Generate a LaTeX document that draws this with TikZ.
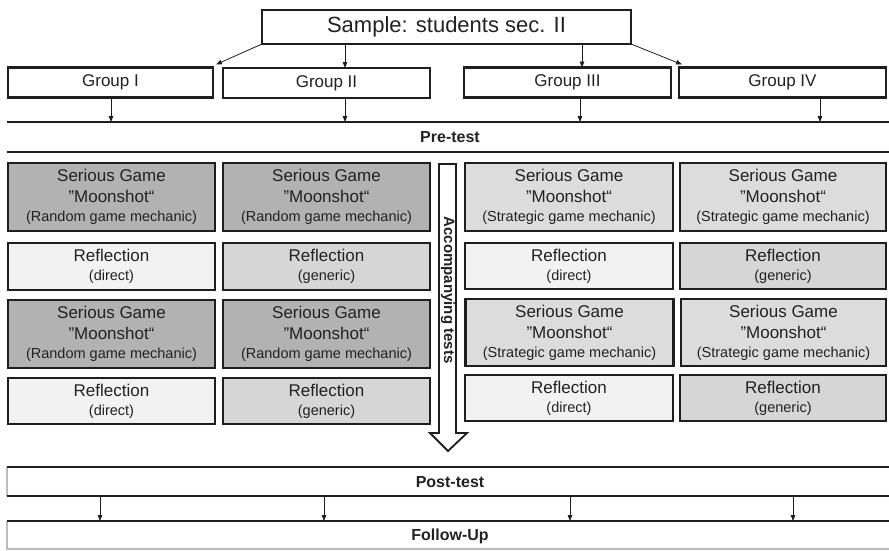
\documentclass[tikz,border=0pt]{standalone}
\usepackage{fontspec}
\setmainfont{Liberation Sans}
\usetikzlibrary{arrows.meta}
\definecolor{linec}{HTML}{1E1E1E}
\definecolor{txt}{HTML}{222222}
\definecolor{randf}{HTML}{B2B2B2}
\definecolor{stratf}{HTML}{DCDCDC}
\definecolor{dirf}{HTML}{F2F2F2}
\definecolor{genf}{HTML}{D6D6D6}
\definecolor{edgegray}{HTML}{BBBBBB}
\tikzset{
  box/.style={draw=linec, line width=2.2pt, inner sep=0pt, outer sep=0pt, text=txt, align=center, font=\fontsize{17}{21}\selectfont},
  grp/.style={box, fill=white, minimum height=30pt},
  randbox/.style={box, fill=randf},
  stratbox/.style={box, fill=stratf},
  dirbox/.style={box, fill=dirf},
  genbox/.style={box, fill=genf},
  arr/.style={-{Triangle[length=6pt,width=4.5pt]}, line width=0.8pt, draw=linec},
  bar/.style={draw=linec, line width=2pt},
  bartext/.style={text=txt, font=\fontsize{16}{19}\selectfont\bfseries, inner sep=0pt}
}
\newcommand{\sgtext}[1]{Serious Game\\ \symbol{34}Moonshot“\\[-2pt] {\fontsize{14.5}{17}\selectfont (#1 game mechanic)}}
\newcommand{\rftext}[1]{Reflection\\[-2pt] {\fontsize{14.5}{17}\selectfont (#1)}}
\begin{document}
\begin{tikzpicture}[x=1pt,y=-1pt]
\useasboundingbox (0,0) rectangle (889,550);
% Sample and groups
\node[box, minimum width=369pt, minimum height=34pt, font=\fontsize{22}{26}\selectfont] (S) at (446.5,27) {Sample: students sec. II};
\node[grp, minimum width=205pt] (G1) at (110.5,82.5) {Group I};
\node[grp, minimum width=207pt] (G2) at (326.5,83) {Group II};
\node[grp, minimum width=207pt] (G3) at (567.5,82.5) {Group III};
\node[grp, minimum width=207pt] (G4) at (782.5,82.5) {Group IV};
\draw[arr] (S.south west) -- ([shift={(3,-3)}]G1.north east);
\draw[arr] (S.south -| 345,0) -- (G2.north -| 345,0);
\draw[arr] (S.south -| 582,0) -- (G3.north -| 582,0);
\draw[arr] (S.south east) -- ([shift={(3,-3)}]G4.north west);
% Pre-test
\node[minimum width=882pt, minimum height=30pt, inner sep=0pt, outer sep=0pt] (pre) at (448,137) {};
\draw[bar] (pre.north west) -- (pre.north east);
\draw[bar] (pre.south west) -- (pre.south east);
\node[bartext] at (450,137) {Pre-test};
\draw[arr] (G1.south -| 111,0) -- (pre.north -| 111,0);
\draw[arr] (G2.south -| 345,0) -- (pre.north -| 345,0);
\draw[arr] (G3.south -| 580,0) -- (pre.north -| 580,0);
\draw[arr] (G4.south -| 820,0) -- (pre.north -| 820,0);
% Left columns
\node[randbox, minimum width=207pt, minimum height=68pt] (a1) at (111.5,197) {\sgtext{Random}};
\node[randbox, minimum width=207pt, minimum height=68pt] (b1) at (326.5,197) {\sgtext{Random}};
\node[dirbox, minimum width=207pt, minimum height=47pt] (a2) at (111.5,266.5) {\rftext{direct}};
\node[genbox, minimum width=207pt, minimum height=47pt] (b2) at (326.5,266.5) {\rftext{generic}};
\node[randbox, minimum width=207pt, minimum height=68pt] (a3) at (111.5,334) {\sgtext{Random}};
\node[randbox, minimum width=207pt, minimum height=68pt] (b3) at (326.5,334) {\sgtext{Random}};
\node[dirbox, minimum width=207pt, minimum height=46pt] (a4) at (111.5,401) {\rftext{direct}};
\node[genbox, minimum width=207pt, minimum height=46pt] (b4) at (326.5,401) {\rftext{generic}};
% Right columns
\node[stratbox, minimum width=208pt, minimum height=68pt] (c1) at (569,197) {\sgtext{Strategic}};
\node[stratbox, minimum width=206pt, minimum height=68pt] (d1) at (783,197) {\sgtext{Strategic}};
\node[dirbox, minimum width=208pt, minimum height=46pt] (c2) at (569,266) {\rftext{direct}};
\node[genbox, minimum width=206pt, minimum height=46pt] (d2) at (783,266) {\rftext{generic}};
\node[stratbox, minimum width=208pt, minimum height=67pt] (c3) at (569.5,332.5) {\sgtext{Strategic}};
\node[stratbox, minimum width=205pt, minimum height=67pt] (d3) at (783.5,332.5) {\sgtext{Strategic}};
\node[dirbox, minimum width=208pt, minimum height=46pt] (c4) at (569,398) {\rftext{direct}};
\node[genbox, minimum width=206pt, minimum height=46pt] (d4) at (783,398) {\rftext{generic}};
% Accompanying tests arrow
\draw[line width=1.8pt, draw=linec, fill=white, line join=miter]
  (439,164) -- (456,164) -- (456,433) -- (467,433) -- (448,451) -- (430,433) -- (439,433) -- cycle;
\node[bartext, font=\fontsize{15}{18}\selectfont\bfseries, rotate=-90] (acc) at (448,290) {Accompanying tests};
% Post-test and Follow-Up
\node[minimum width=882pt, minimum height=29pt, inner sep=0pt, outer sep=0pt] (post) at (448,481.5) {};
\draw[draw=edgegray, line width=1.2pt] (post.north west) -- (post.south west);
\draw[bar] (post.north west) -- (post.north east);
\draw[bar] (post.south west) -- (post.south east);
\node[bartext] at (450,482) {Post-test};
\node[minimum width=882pt, minimum height=28pt, inner sep=0pt, outer sep=0pt] (fu) at (448,535) {};
\draw[draw=edgegray, line width=1.2pt] (fu.north west) -- (fu.south west) -- (fu.south east);
\draw[bar] (fu.north west) -- (fu.north east);
\node[bartext] at (450,536) {Follow-Up};
\draw[arr] (post.south -| 100,0) -- (fu.north -| 100,0);
\draw[arr] (post.south -| 324,0) -- (fu.north -| 324,0);
\draw[arr] (post.south -| 570,0) -- (fu.north -| 570,0);
\draw[arr] (post.south -| 793,0) -- (fu.north -| 793,0);
\end{tikzpicture}
\end{document}
